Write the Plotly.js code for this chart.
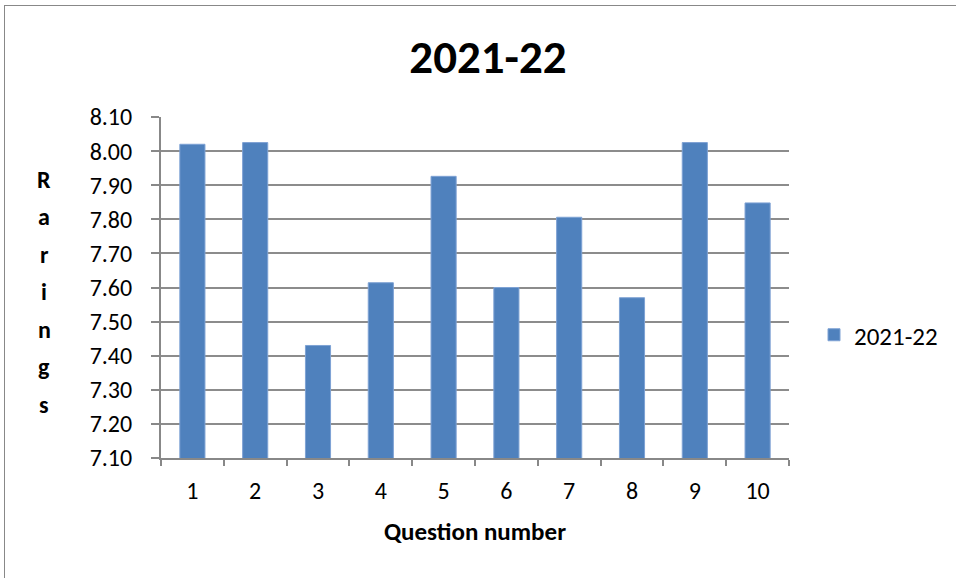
<!DOCTYPE html>
<html>
<head>
<meta charset="utf-8">
<script src="https://cdn.plot.ly/plotly-3.0.1.min.js"></script>
<style>
  html, body { margin: 0; padding: 0; background: #fff; }
  #wrap { position: relative; width: 956px; height: 578px; overflow: hidden; }
  #chart { width: 956px; height: 578px; }
  #frame { position: absolute; left: 4px; top: 5px; width: 1200px; height: 1200px;
           border: 1px solid #888; pointer-events: none; box-sizing: border-box; }
</style>
</head>
<body>
<div id="wrap">
  <div id="chart"></div>
  <div id="frame"></div>
</div>
<script>
const categories = ["1", "2", "3", "4", "5", "6", "7", "8", "9", "10"];
const values = [8.02, 8.025, 7.43, 7.614, 7.926, 7.60, 7.806, 7.57, 8.025, 7.848];
const seriesName = "2021-22";
const chartTitle = "2021-22";
const xTitle = "Question number";
const yTitle = "Rarings";
const yTickVals = [7.1, 7.2, 7.3, 7.4, 7.5, 7.6, 7.7, 7.8, 7.9, 8.0, 8.1];

const FONT = "Carlito, Calibri, Lato, 'Liberation Sans', sans-serif";
const FS = 24;

const trace = {
  type: "bar",
  x: categories,
  y: values,
  name: seriesName,
  marker: { color: "#4F81BD", line: { color: "#7ea2d4", width: 1 } },
  showlegend: true
};

// vertical stacked y-axis title letters
const letters = yTitle.split("");
const annotations = letters.map((ch, i) => ({
  text: "<b>" + ch + "</b>",
  xref: "paper", yref: "paper",
  x: (44 - 161) / 628, xanchor: "center",
  y: (458 - (179 + i * 37.5)) / 341, yanchor: "middle",
  showarrow: false,
  font: { family: FONT, size: FS, color: "#000" }
}));

const layout = {
  width: 956, height: 578,
  margin: { l: 161, r: 167, t: 117, b: 120 },
  paper_bgcolor: "#fff", plot_bgcolor: "#fff",
  font: { family: FONT, size: FS, color: "#000" },
  title: {
    text: "<b>" + chartTitle + "</b>",
    font: { family: FONT, size: 47, color: "#000" },
    xref: "container", yref: "container",
    x: 488 / 956, xanchor: "center",
    y: 1 - 57 / 578, yanchor: "middle"
  },
  bargap: 0.6,
  xaxis: {
    type: "category",
    showline: true, linecolor: "#888", linewidth: 2,
    ticks: "outside", tickson: "boundaries", ticklen: 6, tickcolor: "#888", tickwidth: 2,
    showgrid: false,
    ticklabelstandoff: 10,
    tickfont: { family: FONT, size: FS, color: "#000" },
    title: { text: "<b>" + xTitle + "</b>", font: { family: FONT, size: FS + 1, color: "#000" }, standoff: 19 }
  },
  yaxis: {
    range: [7.1, 8.1],
    tickvals: yTickVals,
    tickformat: ".2f",
    showline: true, linecolor: "#888", linewidth: 2,
    ticks: "outside", ticklen: 8, tickcolor: "#888", tickwidth: 2,
    ticklabelstandoff: 14,
    showgrid: true, gridcolor: "#8c8c8c", gridwidth: 2,
    zeroline: false,
    tickfont: { family: FONT, size: FS, color: "#000" }
  },
  legend: {
    x: (814 - 161) / 628, xanchor: "left",
    y: (458 - 335) / 341, yanchor: "middle",
    font: { family: FONT, size: FS + 1, color: "#000" },
    bgcolor: "rgba(0,0,0,0)",
    itemwidth: 30
  },
  annotations: annotations
};

Plotly.newPlot("chart", [trace], layout, { displayModeBar: false, staticPlot: true });
</script>
</body>
</html>
